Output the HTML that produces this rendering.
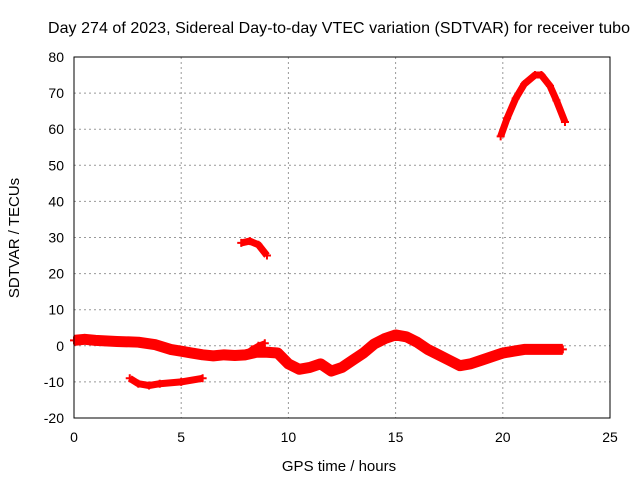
<!DOCTYPE html>
<html><head><meta charset="utf-8"><style>
body{margin:0;background:#fff}
svg{display:block;font-family:"Liberation Sans",sans-serif}
</style></head><body>
<svg id="chart" width="640" height="480">
<rect width="640" height="480" fill="#fff"/>
<text x="339" y="33" text-anchor="middle" font-size="16" textLength="582">Day 274 of 2023, Sidereal Day-to-day VTEC variation (SDTVAR) for receiver tubo</text>
<text x="339" y="471" text-anchor="middle" font-size="15">GPS time / hours</text>
<text transform="translate(19,238) rotate(-90)" text-anchor="middle" font-size="15">SDTVAR / TECUs</text>
<g id="grid"></g><g id="marks"></g>
<rect x="74" y="57" width="536" height="361" fill="none" stroke="#000" stroke-width="1"/>
</svg>
<script>
const xTicks=[0,5,10,15,20,25];
const yTicks=[-20,-10,0,10,20,30,40,50,60,70,80];
const mainX=[0,0.5,1,2,3,3.8,4.5,5,5.5,6,6.5,7,7.5,8,8.5,9,9.5,10,10.5,11,11.5,12,12.5,13,13.5,14,14.5,15,15.5,16,16.5,17,17.5,18,18.5,19,19.5,20,20.5,21,22,22.8];
const mainY=[1.5,1.8,1.5,1.2,1,0.3,-1,-1.5,-2,-2.5,-2.8,-2.5,-2.7,-2.5,-1.8,-1.8,-2,-5,-6.5,-6,-5,-7,-6,-4,-2,0.5,2,3,2.5,1,-1,-2.5,-4,-5.5,-5,-4,-3,-2,-1.5,-1,-1,-1];
const lowX=[2.6,3,3.5,4,5,6];
const lowY=[-9,-10.5,-11,-10.5,-10,-9];
const branchX=[8,8.3,8.6,8.9];
const branchY=[-2.5,-1,0,0.7];
const midX=[7.8,8.2,8.6,9];
const midY=[28.5,29,28,25];
const topX=[19.9,20.2,20.6,21,21.5,21.8,22.2,22.5,22.9];
const topY=[58,63,68.5,72.5,75,75,72,68,62];
const NS="http://www.w3.org/2000/svg";
const X=v=>74+(v-0)*(536/25);
const Y=v=>418-(v+20)*(361/100);
const grid=document.getElementById('grid'),marks=document.getElementById('marks');
function mk(t,a,p){const e=document.createElementNS(NS,t);for(const k in a)e.setAttribute(k,a[k]);p.appendChild(e);return e;}
xTicks.forEach(v=>{
  if(v>0&&v<25){const l=mk('line',{x1:X(v),x2:X(v),y1:57,y2:418,stroke:'#999','stroke-dasharray':'2,3'},grid);
  
  }
  const t=mk('text',{x:X(v),y:442,'text-anchor':'middle','font-size':'14'},grid);t.textContent=v;
  
  
});
yTicks.forEach(v=>{
  if(v>-20&&v<80){const l=mk('line',{x1:74,x2:610,y1:Y(v),y2:Y(v),stroke:'#999','stroke-dasharray':'2,3'},grid);
  
  }
  const t=mk('text',{x:64,y:Y(v)+5,'text-anchor':'end','font-size':'14'},grid);t.textContent=v;
  
  
});
function series(xs,ys,name,w){
  const pts=xs.map((x,i)=>X(x)+','+Y(ys[i])).join(' ');
  const p=mk('polyline',{points:pts,fill:'none',stroke:'#f00','stroke-width':w,'stroke-linejoin':'round','stroke-linecap':'butt'},marks);
  
  
  xs.forEach((x,i)=>{const c=mk('path',{d:`M${X(x)-4},${Y(ys[i])}h8M${X(x)},${Y(ys[i])-4}v8`,stroke:'#f00','stroke-width':2},marks);
    
    });
}
series(mainX,mainY,'main-series',11);
series(lowX,lowY,'low-series',7);
series(branchX,branchY,'branch-series',6);
series(midX,midY,'mid-series',7);
series(topX,topY,'top-series',7);
</script>
</body></html>
